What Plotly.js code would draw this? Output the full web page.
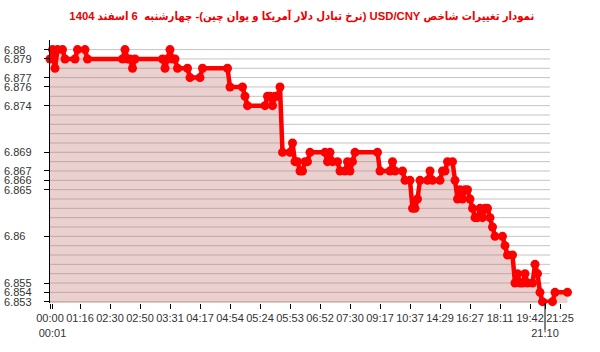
<!DOCTYPE html>
<html><head><meta charset="utf-8">
<script src="https://cdn.plot.ly/plotly-3.0.1.min.js"></script>
<style>body{margin:0;background:#fff}#chart{width:600px;height:352px}</style>
</head><body><div id="chart"></div>
<script>
// Series values, one per reading (category index on the x axis)
const values = [
  6.879, 6.88, 6.878, 6.88, 6.88, 6.88,
  6.879, 6.879, 6.879, 6.879, 6.879,
  6.88, 6.88, 6.88, 6.88,
  6.879, 6.879, 6.879, 6.879, 6.879, 6.879, 6.879, 6.879, 6.879, 6.879, 6.879, 6.879, 6.879, 6.879, 6.879,
  6.88, 6.879, 6.879, 6.878,
  6.879, 6.879, 6.879, 6.879, 6.879, 6.879, 6.879, 6.879, 6.879, 6.879, 6.879, 6.879,
  6.878, 6.879, 6.88, 6.879, 6.879,
  6.878, 6.878, 6.878, 6.878, 6.878,
  6.877, 6.877, 6.877, 6.877, 6.877,
  6.878, 6.878, 6.878, 6.878, 6.878, 6.878, 6.878, 6.878, 6.878, 6.878, 6.878,
  6.876, 6.876, 6.876, 6.876, 6.876, 6.876,
  6.875,
  6.874, 6.874, 6.874, 6.874, 6.874, 6.874, 6.874, 6.874,
  6.875, 6.875, 6.874, 6.875, 6.875, 6.876,
  6.869, 6.869, 6.869, 6.869, 6.870,
  6.868, 6.868, 6.867, 6.867, 6.868, 6.868,
  6.869, 6.869, 6.869, 6.869, 6.869, 6.869, 6.869,
  6.868, 6.869, 6.868, 6.868, 6.868,
  6.867, 6.867, 6.867, 6.868, 6.867, 6.868,
  6.869, 6.869, 6.869, 6.869, 6.869, 6.869, 6.869, 6.869, 6.869, 6.869,
  6.867, 6.867, 6.867, 6.867, 6.867, 6.868,
  6.867, 6.867, 6.867, 6.867,
  6.866, 6.866, 6.866,
  6.863, 6.863, 6.864,
  6.866, 6.866, 6.866, 6.866, 6.867,
  6.866, 6.866, 6.866, 6.866,
  6.867, 6.867, 6.868, 6.868, 6.868,
  6.866, 6.864, 6.865, 6.864, 6.865, 6.865, 6.864,
  6.863, 6.862, 6.862, 6.863, 6.862, 6.863, 6.863, 6.862, 6.861,
  6.860, 6.860, 6.860, 6.860, 6.859,
  6.858, 6.858, 6.858,
  6.855, 6.856, 6.855, 6.855, 6.856, 6.855, 6.855, 6.855,
  6.857, 6.856, 6.854,
  6.853, 6.853, 6.853, 6.853, 6.853,
  6.854, 6.854, 6.854, 6.854, 6.854, 6.854
];

// x-axis labels (first row) and their category positions
const tickIdx  = [0, 12, 24, 36, 48, 60, 72, 84, 96, 108, 120, 132, 144, 156, 168, 180, 192, 204];
const tickText = ['00:00','01:16','02:30','02:50','03:31','04:17','04:54','05:24','05:53','06:52','07:30','09:17','10:37','14:29','16:27','18:11','19:42','21:25'];
// second-row labels
const subIdx  = [1, 198];
const subText = ['00:01', '21:10'];

// y-axis labelled values
const yTickVals = [6.88, 6.879, 6.877, 6.876, 6.874, 6.869, 6.867, 6.866, 6.865, 6.86, 6.855, 6.854, 6.853];
const yTickText = ['6.88','6.879','6.877','6.876','6.874','6.869','6.867','6.866','6.865','6.86','6.855','6.854','6.853'];

const gridMin = 6.853, gridMax = 6.88, gridStep = 0.001;

const titleText = 'نمودار تغییرات شاخص USD/CNY (نرخ تبادل دلار آمریکا و یوان چین)- چهارشنبه  6 اسفند 1404';

// ---------- build ----------
const xs = values.map((v, i) => i);
const n = values.length;
const sizes = values.map((v, i) =>
  (i === 0 || i === n - 1 || v !== values[i - 1] || v !== values[i + 1]) ? 9 : 0);

const trace = {
  x: xs, y: values, type: 'scatter', mode: 'lines+markers',
  line: {color: '#ff0000', width: 4.5},
  marker: {color: '#ff0000', size: sizes, opacity: 1, line: {width: 0}},
  fill: 'tozeroy', fillcolor: 'rgba(190,100,100,0.3)',
  cliponaxis: false, hoverinfo: 'skip'
};

const shapes = [];
const nGrid = Math.round((gridMax - gridMin) / gridStep);
for (let k = 0; k <= nGrid; k++) {
  const v = +(gridMin + k * gridStep).toFixed(3);
  shapes.push({type: 'line', layer: 'below', xref: 'paper', yref: 'y',
    x0: 0, x1: 0.9615, y0: v, y1: v, line: {color: '#c4c4c4', width: 1}});
}
// long tick mark under the last second-row label
shapes.push({type: 'line', xref: 'x', yref: 'paper',
  x0: subIdx[1], x1: subIdx[1], y0: 0, y1: -0.105, line: {color: '#000', width: 1}});

const annotations = yTickVals.map((v, i) => ({
  xref: 'paper', yref: 'y', x: 0, xshift: -48, y: v, xanchor: 'left', yanchor: 'middle',
  text: yTickText[i], showarrow: false,
  font: {family: 'Arial, "Liberation Sans", sans-serif', size: 11, color: '#333'}
}));

const allTickVals = tickIdx.concat(subIdx);
const allTickText = tickText.concat(subText.map(s => '<br>' + s));

const layout = {
  width: 600, height: 352,
  margin: {l: 50, r: 30, t: 40, b: 49},
  paper_bgcolor: '#fff', plot_bgcolor: '#fff',
  showlegend: false,
  title: {
    text: '\u202B' + titleText + '\u202C',
    x: 0.503, xref: 'container', xanchor: 'center', y: 0.955, yref: 'container', yanchor: 'middle',
    font: {family: '"Liberation Sans", "DejaVu Sans Condensed", "DejaVu Sans", sans-serif', size: 11.3, color: '#ee0000', weight: 'bold'}
  },
  xaxis: {
    range: [0, 208], showgrid: false, zeroline: false, showline: false,
    tickmode: 'array', tickvals: allTickVals, ticktext: allTickText, tickangle: 0,
    ticks: 'outside', ticklen: 5, tickcolor: '#000', tickwidth: 1,
    tickfont: {family: 'Arial, "Liberation Sans", sans-serif', size: 11, color: '#333'}
  },
  yaxis: {
    range: [6.85286, 6.88103], showgrid: false, zeroline: false,
    showline: true, linecolor: '#000', linewidth: 1,
    tickmode: 'array', tickvals: yTickVals, ticks: 'outside', ticklen: 5,
    tickcolor: '#000', showticklabels: false
  },
  shapes: shapes,
  annotations: annotations
};

Plotly.newPlot('chart', [trace], layout, {displayModeBar: false, staticPlot: true});
</script>
</body></html>
